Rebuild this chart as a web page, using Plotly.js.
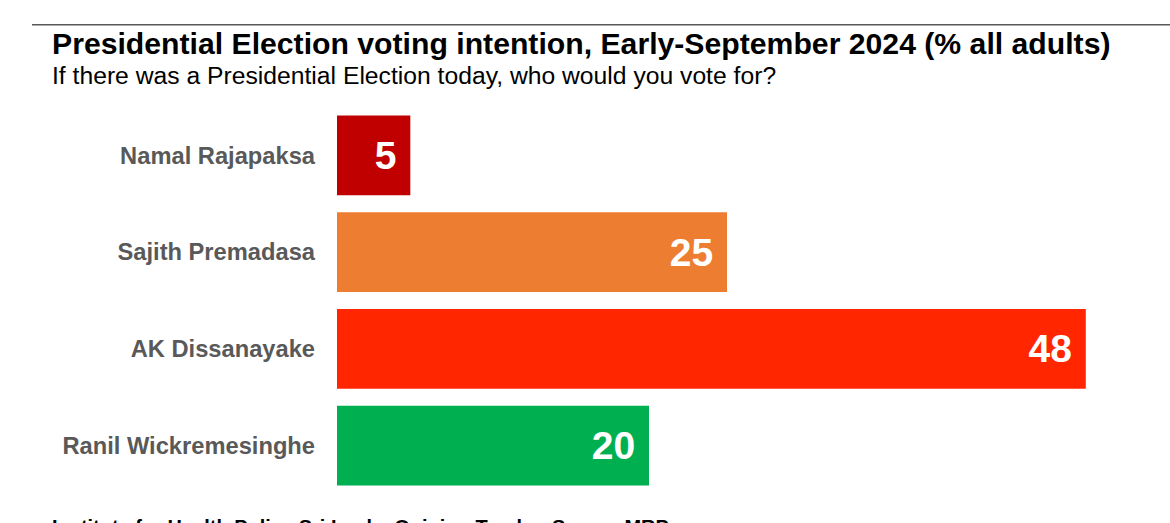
<!DOCTYPE html>
<html>
<head>
<meta charset="utf-8">
<script src="https://cdn.plot.ly/plotly-3.0.1.min.js"></script>
<style>html,body{margin:0;padding:0;background:#fff;}#chart{width:1170px;height:523px;}</style>
</head>
<body>
<div id="chart"></div>
<script>
// Data
const candidates = ["Namal Rajapaksa", "Sajith Premadasa", "AK Dissanayake", "Ranil Wickremesinghe"];
const shares = [4.7, 25, 48, 20];
const shareLabels = ["5", "25", "48", "20"];
const barColors = ["#C00000", "#ED7D31", "#FF2600", "#00B050"];

const W = 1170, H = 523;
const M = {l: 337, r: 53, t: 106.5, b: 28.5};
const PW = W - M.l - M.r, PH = H - M.t - M.b;
const px = x => (x - M.l) / PW;
const py = y => (H - M.b - y) / PH;
const FONT = "Liberation Sans, Arial, sans-serif";

const trace = {
  type: "bar",
  orientation: "h",
  y: candidates,
  x: shares,
  text: shareLabels.map(s => s + "\u00a0"),
  textposition: "inside",
  insidetextanchor: "end",
  textangle: 0,
  constraintext: "none",
  textfont: {family: FONT, size: 39, color: "#ffffff", weight: "bold"},
  marker: {color: barColors, line: {width: 0}},
  hoverinfo: "none"
};

const layout = {
  width: W, height: H,
  margin: M,
  paper_bgcolor: "#ffffff",
  plot_bgcolor: "#ffffff",
  showlegend: false,
  bargap: 0.175,
  xaxis: {range: [0, 50], visible: false, fixedrange: true},
  yaxis: {
    autorange: "reversed",
    showgrid: false, zeroline: false, showline: false, ticks: "",
    ticklabelstandoff: 21,
    tickfont: {family: FONT, size: 23.7, color: "#595959", weight: "bold"},
    fixedrange: true
  },
  shapes: [{
    type: "line", xref: "paper", yref: "paper",
    x0: px(32), x1: px(1170), y0: py(24), y1: py(24),
    line: {color: "#595959", width: 1.5}
  }],
  annotations: [
    {xref: "paper", yref: "paper", x: px(50), y: py(43), xanchor: "left", yanchor: "middle",
     showarrow: false, text: "<b>Presidential Election voting intention, Early-September 2024 (% all adults)</b>",
     font: {family: FONT, size: 30.2, color: "#000000"}},
    {xref: "paper", yref: "paper", x: px(50), y: py(75), xanchor: "left", yanchor: "middle",
     showarrow: false, text: "If there was a Presidential Election today, who would you vote for?",
     font: {family: FONT, size: 24.7, color: "#000000"}},
    {xref: "paper", yref: "paper", x: px(50), y: py(528), xanchor: "left", yanchor: "middle",
     showarrow: false, text: "<b>Institute for Health Policy Sri Lanka Opinion Tracker Survey MRP</b>",
     font: {family: FONT, size: 20, color: "#000000"}}
  ]
};

Plotly.newPlot("chart", [trace], layout, {staticPlot: true, displayModeBar: false});
</script>
</body>
</html>
